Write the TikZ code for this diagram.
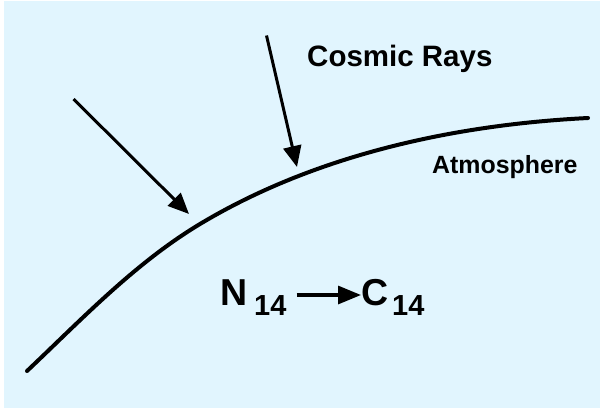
\documentclass[tikz,border=0pt]{standalone}
\usepackage{fontspec}
\setmainfont{Liberation Sans}
\usetikzlibrary{arrows.meta}
\definecolor{skyblue}{HTML}{E1F5FE}
\tikzset{
  ray/.style={line width=3pt, -{Triangle[length=21pt,width=18pt]}},
  label/.style={inner sep=0pt, font=\bfseries},
}
\begin{document}
\begin{tikzpicture}[x=1pt,y=-1pt]
\useasboundingbox (0,0) rectangle (600,408);
\fill[white] (0,0) rectangle (600,408);
\fill[skyblue] (4,1) rectangle (600,408);
% atmosphere curve
\coordinate (a0) at (27,371);
\coordinate (a1) at (200,224);
\coordinate (a2) at (588,118);
\draw[line width=4pt, line cap=round]
  (a0) .. controls (81,320) and (135,263) .. (a1)
       .. controls (315,155) and (454,124.7) .. (a2);
% cosmic rays
\coordinate (r1s) at (73.5,99);
\coordinate (r1e) at (189,214);
\coordinate (r2s) at (266.5,35.5);
\coordinate (r2e) at (297,167);
\draw[ray] (r1s) -- (r1e);
\draw[ray] (r2s) -- (r2e);
\node[label, anchor=base west, font=\bfseries\fontsize{29.5}{30}\selectfont] (cr) at (307,66.7) {Cosmic Rays};
\node[label, anchor=base west, font=\bfseries\fontsize{24.9}{26}\selectfont] (atm) at (432,173.3) {Atmosphere};
% reaction
\node[label, anchor=base west, font=\bfseries\fontsize{37.5}{38}\selectfont] (n) at (220,305) {N};
\node[label, anchor=base west, font=\bfseries\fontsize{29}{30}\selectfont] (n14) at (254,315) {14};
\node[label, anchor=base west, font=\bfseries\fontsize{37.5}{38}\selectfont] (c) at (361,305) {C};
\node[label, anchor=base west, font=\bfseries\fontsize{29}{30}\selectfont] (c14) at (392,315) {14};
\draw[line width=3.2pt, -{Triangle[length=23pt,width=18pt]}] (n14.east |- 0,295) ++(10,0) coordinate (ra) -- (c.west |- 0,295);
\end{tikzpicture}
\end{document}
